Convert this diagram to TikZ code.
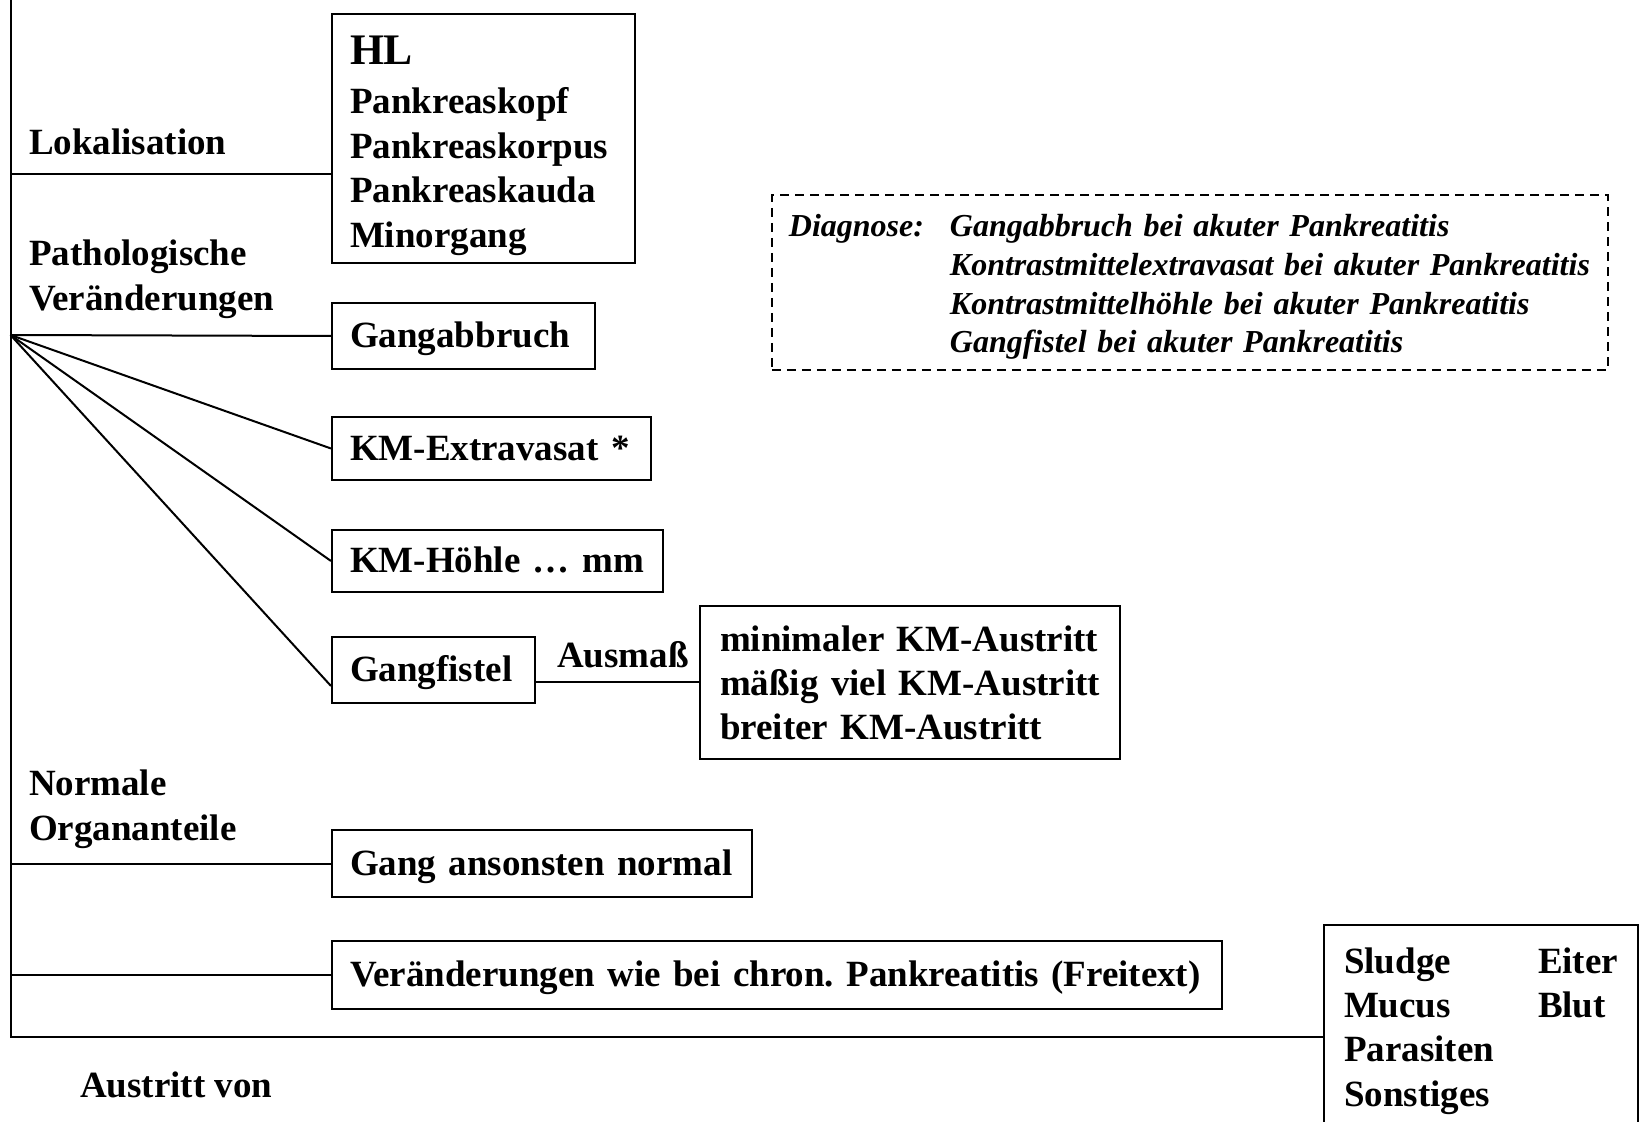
\documentclass[tikz,border=0pt]{standalone}
\usepackage{fontspec}
\setmainfont{Liberation Serif}
\usetikzlibrary{calc}
\begin{document}
\begin{tikzpicture}[x=0.5pt,y=-0.5pt,
  line width=1pt,
  every node/.style={font=\fontsize{18.5pt}{22.2pt}\selectfont\bfseries\frenchspacing},
  lbl/.style={inner sep=0pt, anchor=base west},
  box/.style={draw, anchor=north west, align=left, inner xsep=9pt, inner ysep=0pt},
  onebox/.style={box, text height=13pt, text depth=1.2pt},
  dbox/.style={draw, line width=0.9pt, dash pattern=on 4.5pt off 3pt, anchor=north west,
    align=left, inner xsep=8.5pt, inner ysep=0pt,
    font=\fontsize{16pt}{19.3pt}\selectfont\bfseries\itshape\frenchspacing},
  ]
\useasboundingbox (0,0) rectangle (1643,1122);

% spine of the tree
\coordinate (top) at (10.5,0);
\coordinate (corner) at (10.5,1037);
\coordinate (fan) at (10.5,335);

% group labels
\node[lbl] (lok) at (28,155) {Lokalisation};
\node[lbl] (pat1) at (28,266) {Pathologische};
\node[lbl] (pat2) at (28,311) {Veränderungen};
\node[lbl] (nor1) at (28,795) {Normale};
\node[lbl] (nor2) at (28,840) {Organanteile};
\node[lbl] (aus) at (79,1097) {Austritt von};
\node[lbl] (ausm) at (556,667) {Ausmaß};

% boxes
\node[box, text width=133.5pt, text height=25.7pt, text depth=99pt] (hl) at (331,12.6)
  {\begin{tabular}[t]{@{}l@{}}
   {\fontsize{21.8pt}{26pt}\selectfont HL}\\[2.3pt]
   Pankreaskopf\\ Pankreaskorpus\\ Pankreaskauda\\ Minorgang
   \end{tabular}};
\node[onebox, text width=113.5pt, minimum height=33pt] (gab) at (331,302) {\mbox{Gangabbruch}};
\node[onebox, text width=141.5pt, minimum height=31.5pt] (ext) at (331,416) {\mbox{KM-Extravasat *}};
\node[onebox, text width=147.5pt, minimum height=31pt] (hoe) at (331,529) {\mbox{KM-Höhle … mm}};
\node[onebox, text width=83.5pt, minimum height=33pt] (fis) at (331,636) {\mbox{Gangfistel}};
\node[box, inner xsep=10pt, text width=190pt, text height=22.75pt, text depth=53.75pt] (amt) at (699,604.5)
  {\begin{tabular}[t]{@{}l@{}}
   minimaler KM-Austritt\\ mäßig viel KM-Austritt\\ breiter KM-Austritt
   \end{tabular}};
\node[onebox, text width=192pt, minimum height=33.5pt] (norm) at (331,829) {\mbox{Gang ansonsten normal}};
\node[onebox, text width=427pt, minimum height=34pt] (chr) at (331,940)
  {\mbox{Veränderungen wie bei chron. Pankreatitis (Freitext)}};
\node[box, inner xsep=10pt, inner ysep=8.5pt, text width=137pt] (sl) at (1323,924)
  {\begin{tabular}{@{}p{97pt}@{}l@{}}
   Sludge & Eiter\\ Mucus & Blut\\ Parasiten & \\ Sonstiges &
   \end{tabular}};
\node[dbox, text width=401pt, text height=21pt, text depth=66.5pt] (dg) at (771,194)
  {\begin{tabular}[t]{@{}p{80.5pt}@{}l@{}}
   Diagnose: & Gangabbruch bei akuter Pankreatitis\\
             & Kontrastmittelextravasat bei akuter Pankreatitis\\
             & Kontrastmittelhöhle bei akuter Pankreatitis\\
             & Gangfistel bei akuter Pankreatitis
   \end{tabular}};

% connectors
\draw (top) -- (corner) -- (corner -| sl.west);
\draw ([yshift=-18pt]hl.west) -- ([yshift=-18pt]hl.west -| top);
\draw (fan) -- (gab.west);
\draw (fan) -- (ext.west);
\draw (fan) -- (hoe.west);
\draw (fan) -- ([yshift=-8pt]fis.west);
\draw (amt.west) -- (amt.west -| fis.east);
\draw (norm.west) -- (norm.west -| top);
\draw (chr.west) -- (chr.west -| top);
\end{tikzpicture}
\end{document}
